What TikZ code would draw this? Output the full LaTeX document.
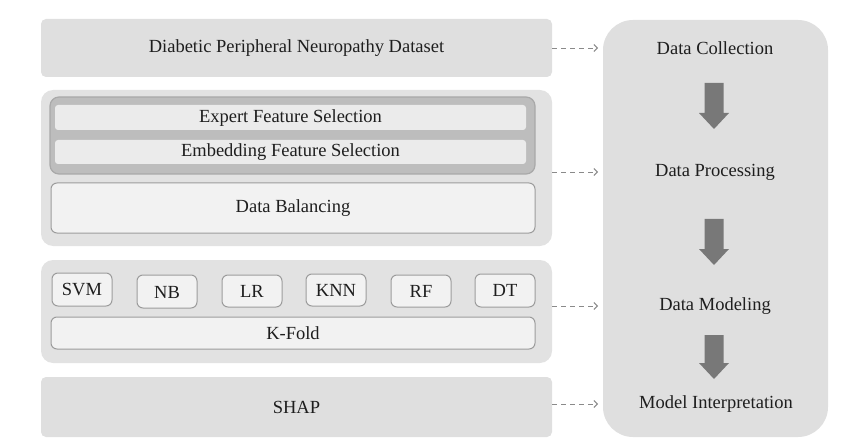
\documentclass[tikz,border=0pt]{standalone}
\usepackage{fontspec}
\setmainfont{Liberation Serif}
\usetikzlibrary{arrows.meta}
\definecolor{panel}{HTML}{DFDFDF}
\definecolor{groupfill}{HTML}{E2E2E2}
\definecolor{selfill}{HTML}{BDBDBD}
\definecolor{seledge}{HTML}{A9A9A9}
\definecolor{barfill}{HTML}{EBEBEB}
\definecolor{lightfill}{HTML}{F2F2F2}
\definecolor{boxedge}{HTML}{9C9C9C}
\definecolor{bigarrow}{HTML}{787878}
\definecolor{dashgray}{HTML}{8A8A8A}
\definecolor{txt}{HTML}{1E1E1E}
\tikzset{
  every node/.style={font=\rmfamily\fontsize{18.5}{21}\selectfont, text=txt},
  panelbox/.style={fill=panel, draw=none, rounded corners=5pt},
  groupbox/.style={fill=groupfill, draw=none, rounded corners=12pt},
  selbox/.style={fill=selfill, draw=seledge, line width=1.2pt, rounded corners=9pt},
  barbox/.style={fill=barfill, draw=none, rounded corners=3pt},
  lightbox/.style={fill=lightfill, draw=boxedge, line width=1pt, rounded corners=6pt},
  dasharrow/.style={draw=dashgray, line width=0.9pt, dash pattern=on 5pt off 4pt, -{Straight Barb[length=3.5pt,width=7pt]}},
  bigarr/.style={fill=bigarrow, draw=none},
  lbl/.style={inner sep=0pt}
}
\begin{document}
\begin{tikzpicture}[x=1pt,y=-1pt]
\useasboundingbox (0,0) rectangle (850,446);
% right panel
\fill[panel, rounded corners=30pt] (603,20) rectangle (828,437);
% top box
\fill[panelbox] (41,19) rectangle (552,77);
\node[lbl] (dpn) at (296.5,48) {Diabetic Peripheral Neuropathy Dataset};
\coordinate (dpnR) at (552,48);
% processing group
\fill[groupbox] (41,90) rectangle (552,246);
\draw[selbox] (50,97) rectangle (535,174);
\fill[barbox] (55,105) rectangle (526,130);
\fill[barbox] (55,140) rectangle (526,164);
\node[lbl] (efs) at (290.5,118) {Expert Feature Selection};
\node[lbl] (emb) at (290.5,152) {Embedding Feature Selection};
\draw[lightbox] (51,183) rectangle (535,233);
\node[lbl] (bal) at (293,208) {Data Balancing};
\coordinate (procR) at (552,172);
% modeling group
\fill[groupbox] (41,260) rectangle (552,363);
\draw[lightbox] (52,273) rectangle (112,306);
\node[lbl] (svm) at (82,290) {SVM};
\draw[lightbox] (137,275) rectangle (197,308);
\node[lbl] (nb) at (167,292) {NB};
\draw[lightbox] (222,275) rectangle (282,307);
\node[lbl] (lr) at (252,291) {LR};
\draw[lightbox] (306,274) rectangle (366,306);
\node[lbl] (knn) at (336,290) {KNN};
\draw[lightbox] (391,275) rectangle (451,307);
\node[lbl] (rf) at (421,291) {RF};
\draw[lightbox] (475,274) rectangle (535,307);
\node[lbl] (dt) at (505,290) {DT};
\draw[lightbox] (51,317) rectangle (535,349);
\node[lbl] (kf) at (293,333) {K-Fold};
\coordinate (modR) at (552,306);
% SHAP
\fill[panelbox] (41,377) rectangle (552,437);
\node[lbl] (shap) at (296.5,407) {SHAP};
\coordinate (shapR) at (552,404);
% right labels
\node[lbl] (dc) at (715,48) {Data Collection};
\node[lbl] (dp) at (715,172) {Data Processing};
\node[lbl] (dm) at (715,306) {Data Modeling};
\node[lbl] (mi) at (716,404) {Model Interpretation};
% dashed arrows
\draw[dasharrow] (dpnR) -- (dc.west -| 598,0);
\draw[dasharrow] (procR) -- (dp.west -| 598,0);
\draw[dasharrow] (modR) -- (dm.west -| 598,0);
\draw[dasharrow] (shapR) -- (mi.west -| 598,0);
% big arrows
\newcommand{\bigdown}[3]{%
  \fill[bigarr] (#1-9.5,#2) -- (#1+9.5,#2) -- (#1+9.5,#3-16) -- (#1+15,#3-16) -- (#1,#3) -- (#1-15,#3-16) -- (#1-9.5,#3-16) -- cycle;}
\bigdown{714}{83}{129}
\bigdown{714}{219}{265}
\bigdown{714}{335}{379}
\end{tikzpicture}
\end{document}
